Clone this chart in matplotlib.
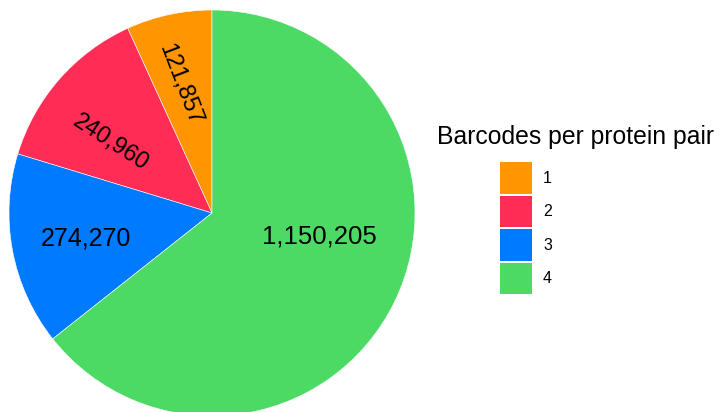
import numpy as np
import matplotlib
matplotlib.use("Agg")
import matplotlib.pyplot as plt
from matplotlib.patches import Patch

plt.rcParams['font.family'] = ['Liberation Sans', 'DejaVu Sans']

# barcode counts per protein pair
categories = ['1', '2', '3', '4']
counts = [121857, 240960, 274270, 1150205]
colors = ['#FF9500', '#FF2D55', '#007AFF', '#4CD964']

# label placement inside each wedge: radius, angle offset from mid, rotation, size
label_radius = [132, 124, 129, 110]
label_shift = [1.8, 6.4, 0.5, 13.3]
label_rot = [-69, -33, 0, 0]
label_size = [17, 17, 18, 18.5]

W, H = 727, 412
fig = plt.figure(figsize=(W / 100, H / 100), dpi=100)
ax = fig.add_axes([0, 0, 1, 1])

cx, cy, R = 212, H - 213, 203
wedges, _ = ax.pie(counts, colors=colors, startangle=90, counterclock=True,
                   center=(cx, cy), radius=R,
                   wedgeprops=dict(edgecolor='white', linewidth=0.4))
ax.set_xlim(0, W)
ax.set_ylim(0, H)
ax.set_aspect('equal')
ax.axis('off')

for w, n, r, sh, rot, fs in zip(wedges, counts, label_radius, label_shift,
                               label_rot, label_size):
    mid = np.deg2rad((w.theta1 + w.theta2) / 2 + sh)
    ax.text(cx + r * np.cos(mid), cy + r * np.sin(mid), f"{n:,}",
            ha='center', va='center', rotation=rot, rotation_mode='anchor',
            fontsize=fs, color='black')

# legend
fs_leg = 11.5
fpx = fs_leg * 100 / 72
handles = [Patch(facecolor=c, edgecolor='none') for c in colors]
fig.legend(handles, categories, loc='upper left',
           bbox_to_anchor=(500 / W, 1 - 162 / H), frameon=False,
           borderpad=0, borderaxespad=0, fontsize=fs_leg,
           handlelength=32 / fpx, handleheight=32 / fpx * 1.33,
           labelspacing=2 / fpx, handletextpad=11 / fpx)
fig.text(437 / W, 1 - 137 / H, "Barcodes per protein pair",
         ha='left', va='center', fontsize=17.8, color='black')

fig.savefig("out.png", dpi=100)
